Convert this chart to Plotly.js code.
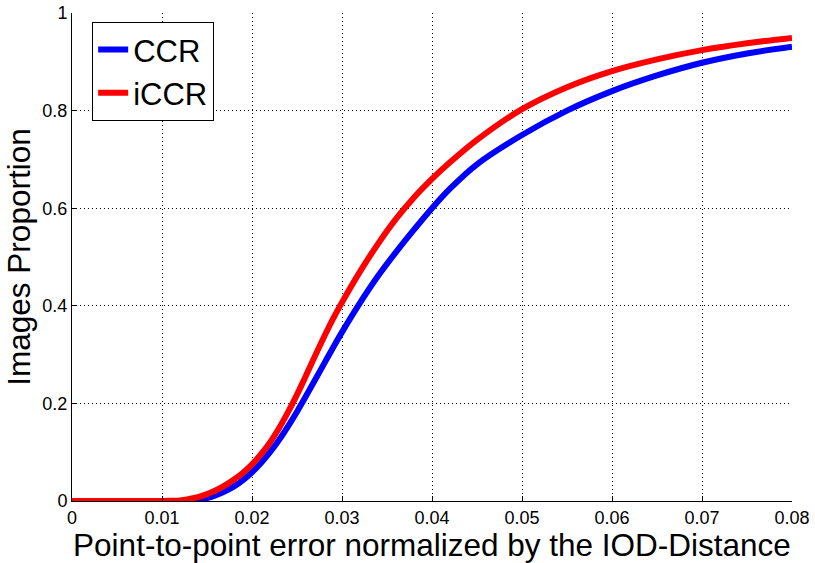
<!DOCTYPE html>
<html>
<head>
<meta charset="utf-8">
<script src="https://cdn.plot.ly/plotly-3.0.1.min.js"></script>
<style>
  html, body { margin: 0; padding: 0; background: #fff; }
  #chart { width: 815px; height: 563px; }
</style>
</head>
<body>
<div id="chart"></div>
<script>
// normalized error (IOD) and cumulative proportion of images
const ERR = [0, 0.005, 0.010, 0.011, 0.012, 0.013, 0.014, 0.015, 0.016, 0.017, 0.018, 0.019,
             0.020, 0.021, 0.022, 0.023, 0.024, 0.025, 0.026, 0.027, 0.028, 0.029, 0.030,
             0.032, 0.034, 0.036, 0.038, 0.040, 0.042, 0.045, 0.050, 0.055, 0.060, 0.065,
             0.070, 0.075, 0.080];

const CCR  = [0, 0, 0, 0, 0, 0, 0.002, 0.006, 0.012, 0.020, 0.030, 0.043,
              0.059, 0.078, 0.100, 0.125, 0.153, 0.183, 0.215, 0.248, 0.281, 0.314, 0.346,
              0.406, 0.461, 0.510, 0.556, 0.600, 0.640, 0.690, 0.750, 0.800, 0.840, 0.872,
              0.898, 0.917, 0.931];

const ICCR = [0, 0, 0, 0.0003, 0.001, 0.004, 0.008, 0.014, 0.022, 0.032, 0.044, 0.058,
              0.075, 0.096, 0.120, 0.149, 0.182, 0.218, 0.257, 0.297, 0.336, 0.373, 0.407,
              0.470, 0.527, 0.578, 0.622, 0.660, 0.694, 0.740, 0.803, 0.848, 0.881, 0.905,
              0.924, 0.938, 0.949];

const FONT = 'Arial, "Liberation Sans", Helvetica, sans-serif';

const AXIS = {
  showline: true,
  linecolor: '#000',
  linewidth: 1,
  mirror: false,
  ticks: 'inside',
  ticklen: 5,
  tickcolor: '#000',
  showgrid: true,
  gridcolor: '#000',
  gridwidth: 1,
  griddash: '1px,3px',
  zeroline: false,
  tickfont: { family: FONT, size: 18, color: '#000' },
};

Plotly.newPlot('chart', [
  {
    type: 'scatter', mode: 'lines', name: 'CCR',
    x: ERR, y: CCR,
    line: { color: '#0000ff', width: 6, shape: 'spline', smoothing: 1 },
  },
  {
    type: 'scatter', mode: 'lines', name: 'iCCR',
    x: ERR, y: ICCR,
    line: { color: '#ff0000', width: 6, shape: 'spline', smoothing: 1 },
  },
], {
  width: 815,
  height: 563,
  paper_bgcolor: '#fff',
  plot_bgcolor: '#fff',
  margin: { l: 72, r: 23, t: 13, b: 62 },
  font: { family: FONT, color: '#000' },
  xaxis: {
    ...AXIS,
    range: [0, 0.08],
    dtick: 0.01,
    title: { text: 'Point-to-point error normalized by the IOD-Distance', font: { family: FONT, size: 31.5 }, standoff: 2 },
  },
  yaxis: {
    ...AXIS,
    range: [0, 1],
    dtick: 0.2,
    title: { text: 'Images Proportion', font: { family: FONT, size: 31.5 }, standoff: 2 },
  },
  showlegend: true,
  legend: {
    x: 0.028, y: 0.982, xanchor: 'left', yanchor: 'top',
    bgcolor: '#fff', bordercolor: '#000', borderwidth: 1,
    font: { family: FONT, size: 31, color: '#000' },
    tracegroupgap: 0,
  },
}, { displayModeBar: false, responsive: false });
</script>
</body>
</html>
